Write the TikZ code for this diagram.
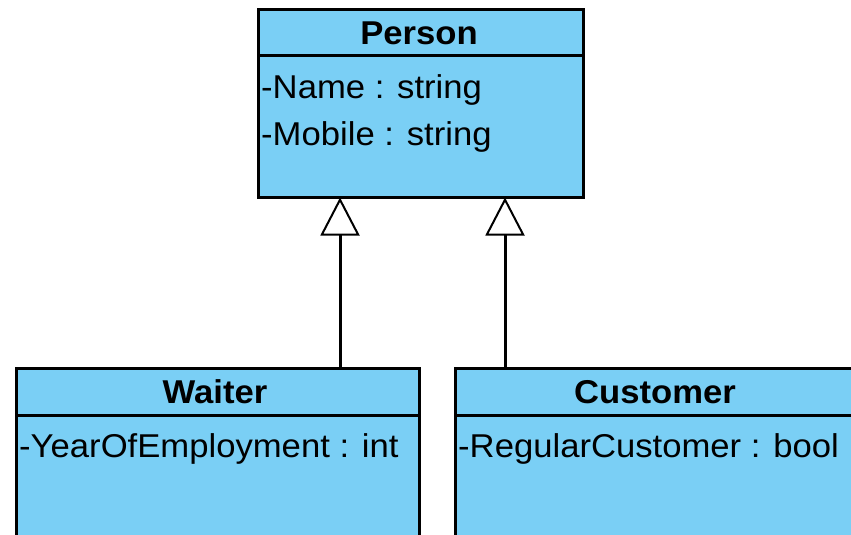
\documentclass[tikz,border=0pt]{standalone}
\usepackage{fontspec}
\setmainfont{Liberation Sans}[FakeStretch=1.05]
\usetikzlibrary{arrows.meta}
\definecolor{umlblue}{HTML}{7ACFF5}
\tikzset{
  classbox/.style={draw=black, fill=umlblue, line width=3pt, anchor=north west, inner sep=0pt, outer sep=0pt},
  divider/.style={draw=black, line width=3pt},
  classtitle/.style={font=\fontsize{33}{40}\selectfont\bfseries, anchor=base, inner sep=0pt},
  attr/.style={font=\fontsize{33}{40}\selectfont, anchor=base west, inner sep=0pt},
  gen/.style={draw=black, line width=3pt, -{Triangle[open, fill=white, length=38pt, width=39pt, line width=2pt]}}
}
\begin{document}
\begin{tikzpicture}[x=1pt,y=-1pt]
\useasboundingbox (0,0) rectangle (851,535);
\clip (0,0) rectangle (851,535);
% Person
\node[classbox, minimum width=325pt, minimum height=188pt] (person) at (258.5,9.5) {};
\draw[divider] (person.west |- 0,56) -- (person.east |- 0,56);
\node[classtitle] (persontitle) at (419,45) {Person};
\node[attr] (pname) at (261,98) {-Name : string};
\node[attr] (pmobile) at (261,145) {-Mobile : string};
% Waiter
\node[classbox, minimum width=403pt, minimum height=200pt] (waiter) at (16.5,368.5) {};
\draw[divider] (waiter.west |- 0,415) -- (waiter.east |- 0,415);
\node[classtitle] (waitertitle) at (215,403) {Waiter};
\node[attr] (wyear) at (19,457) {-YearOfEmployment : int};
% Customer
\node[classbox, minimum width=403pt, minimum height=200pt] (customer) at (455.5,368.5) {};
\draw[divider] (customer.west |- 0,415) -- (customer.east |- 0,415);
\node[classtitle] (customertitle) at (655,403) {Customer};
\node[attr] (cregular) at (458,457) {-RegularCustomer : bool};
% Generalizations
\draw[gen] (waiter.north -| 340,0) -- (person.south -| 340,0);
\draw[gen] (customer.north -| 505,0) -- (person.south -| 505,0);
\end{tikzpicture}
\end{document}
